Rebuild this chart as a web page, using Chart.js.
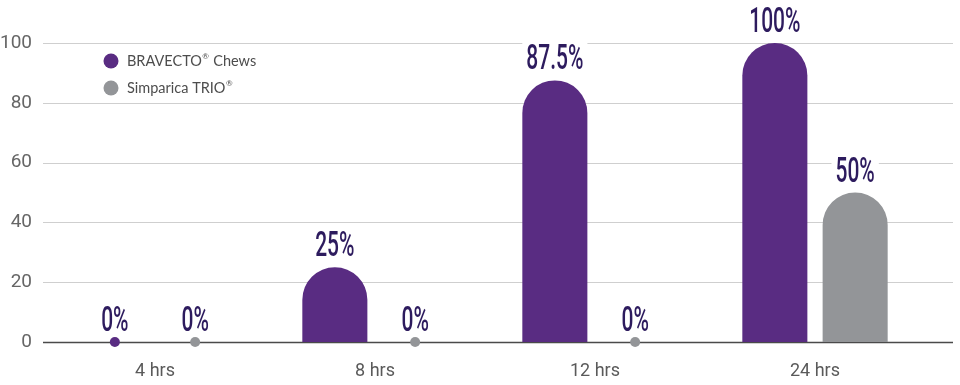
<!DOCTYPE html>
<html>
<head>
<meta charset="utf-8">
<script src="https://cdn.jsdelivr.net/npm/chart.js@4.4.0/dist/chart.umd.min.js"></script>
<style>
  html, body { margin: 0; padding: 0; background: #fff; }
  #wrap { width: 960px; height: 385px; }
</style>
</head>
<body>
<div id="wrap"><canvas id="myChart" width="960" height="385"></canvas></div>
<script>
// data
const categories = ["4 hrs", "8 hrs", "12 hrs", "24 hrs"];
const bravecto = [0, 25, 87.5, 100];
const simparica = [0, 0, 0, 50];
const yTicks = [0, 20, 40, 60, 80, 100];

const PURPLE = "#592c82";
const GREY = "#939598";
const LABEL = "#2d1b5e";

// grid lines + baseline, a bit wider than the plot like the original
const gridPlugin = {
    id: "grid",
    beforeDatasetsDraw(chart) {
        const {ctx, chartArea, scales} = chart;
        ctx.save();
        yTicks.forEach(v => {
            const y = Math.round(scales.y.getPixelForValue(v)) + 0.5;
            ctx.beginPath();
            ctx.moveTo(chartArea.left - 2, y);
            ctx.lineTo(953, y);
            ctx.lineWidth = v === 0 ? 1.5 : 1.2;
            ctx.strokeStyle = v === 0 ? "#4a4a4a" : "#cfcfcf";
            ctx.stroke();
        });
        ctx.restore();
    }
};

// zero dots, value labels and the legend
const marksPlugin = {
    id: "marks",
    afterDatasetsDraw(chart) {
        const {ctx, chartArea} = chart;
        ctx.save();
        chart.data.datasets.forEach((ds, i) => {
            const meta = chart.getDatasetMeta(i);
            meta.data.forEach((bar, j) => {
                const v = ds.data[j];
                if (v === 0) {
                    ctx.beginPath();
                    ctx.arc(bar.x, bar.y, 5, 0, Math.PI * 2);
                    ctx.fillStyle = ds.backgroundColor;
                    ctx.fill();
                }
                const txt = v + "%";
                ctx.font = "500 35px Roboto";
                const sx = 0.6;
                const w = ctx.measureText(txt).width * sx;
                const base = bar.y - 11;
                ctx.fillStyle = "#fff";
                ctx.fillRect(bar.x - w / 2 - 4, base - 28, w + 8, 30);
                ctx.save();
                ctx.translate(bar.x, base);
                ctx.scale(sx, 1);
                ctx.fillStyle = LABEL;
                ctx.textAlign = "center";
                ctx.textBaseline = "alphabetic";
                ctx.fillText(txt, 0, 0);
                ctx.restore();
            });
        });

        // legend
        chart.data.datasets.forEach((ds, i) => {
            const cx = chartArea.left + 66;
            const cy = chartArea.top + 18 + i * 27;
            ctx.beginPath();
            ctx.arc(cx, cy, 7.5, 0, Math.PI * 2);
            ctx.fillStyle = ds.backgroundColor;
            ctx.fill();
            ctx.fillStyle = "#4d4d4d";
            ctx.textBaseline = "middle";
            ctx.textAlign = "left";
            let x = cx + 16;
            const parts = ds.label.split("®");
            parts.forEach((p, k) => {
                ctx.font = "14.5px Lato";
                ctx.fillText(p, x, cy);
                x += ctx.measureText(p).width;
                if (k < parts.length - 1) {
                    ctx.font = "8px Lato";
                    ctx.fillText("®", x + 0.5, cy - 5);
                    x += ctx.measureText("®").width + 1;
                }
            });
        });
        ctx.restore();
    }
};

new Chart(document.getElementById("myChart").getContext("2d"), {
    type: "bar",
    data: {
        labels: categories,
        datasets: [
            {
                label: "BRAVECTO® Chews",
                data: bravecto,
                backgroundColor: PURPLE,
                borderRadius: {topLeft: 100, topRight: 100},
                borderSkipped: "start"
            },
            {
                label: "Simparica TRIO®",
                data: simparica,
                backgroundColor: GREY,
                borderRadius: {topLeft: 100, topRight: 100},
                borderSkipped: "start"
            }
        ]
    },
    options: {
        responsive: false,
        animation: false,
        categoryPercentage: 0.73,
        barPercentage: 0.81,
        layout: {padding: {top: 43, right: 35, left: 0, bottom: 0}},
        plugins: {
            legend: {display: false},
            tooltip: {enabled: false}
        },
        scales: {
            x: {
                grid: {display: false},
                border: {display: false},
                ticks: {
                    color: "#5a5a5a",
                    font: {family: "Roboto", size: 18},
                    padding: 11
                },
                afterFit: s => { s.height = 43; }
            },
            y: {
                min: 0,
                max: 100,
                grid: {display: false},
                border: {display: false},
                ticks: {
                    stepSize: 20,
                    color: "#666",
                    font: {family: "Roboto", size: 19},
                    padding: 5
                },
                afterFit: s => { s.width = 45; }
            }
        }
    },
    plugins: [gridPlugin, marksPlugin]
});
</script>
</body>
</html>
